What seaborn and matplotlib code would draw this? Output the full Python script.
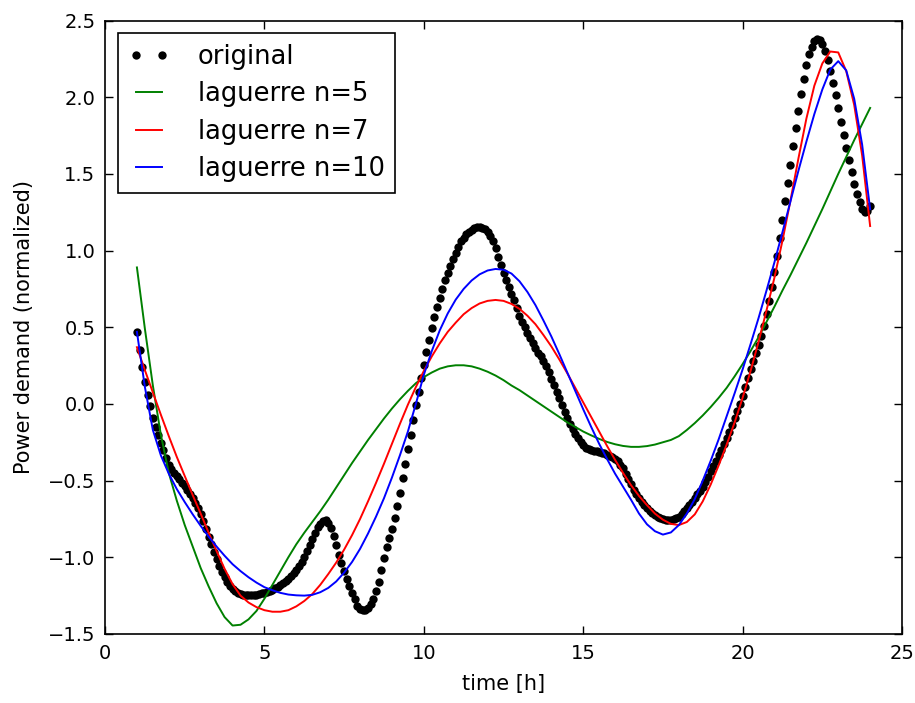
import numpy as np
import pandas as pd
import matplotlib
matplotlib.use('Agg')
import matplotlib.pyplot as plt
import seaborn as sns

# measured power demand, one value every 5 minutes from 1:00 to 24:00 (one row per hour)
minutes = np.arange(60, 24 * 60 + 1, 5)
hours = minutes / 60.0
power = [
    0.47, 0.35, 0.24, 0.145, 0.057, -0.015, -0.095, -0.15, -0.20, -0.255, -0.30, -0.355,
    -0.40, -0.425, -0.45, -0.47, -0.49, -0.515, -0.535, -0.56, -0.585, -0.615, -0.645, -0.68,
    -0.72, -0.765, -0.815, -0.865, -0.915, -0.965, -1.01, -1.055, -1.095, -1.13, -1.16, -1.185,
    -1.205, -1.22, -1.23, -1.238, -1.243, -1.246, -1.247, -1.247, -1.245, -1.243, -1.24, -1.236,
    -1.232, -1.227, -1.22, -1.212, -1.203, -1.193, -1.182, -1.17, -1.157, -1.142, -1.125, -1.105,
    -1.083, -1.058, -1.03, -0.995, -0.958, -0.92, -0.88, -0.84, -0.805, -0.78, -0.765, -0.76,
    -0.775, -0.81, -0.86, -0.92, -0.985, -1.04, -1.09, -1.14, -1.19, -1.235, -1.27, -1.315,
    -1.335, -1.344, -1.342, -1.33, -1.305, -1.27, -1.22, -1.16, -1.085, -1.005, -0.935, -0.875,
    -0.815, -0.745, -0.665, -0.58, -0.48, -0.39, -0.295, -0.20, -0.105, -0.01, 0.08, 0.17,
    0.255, 0.34, 0.42, 0.495, 0.565, 0.63, 0.69, 0.75, 0.805, 0.855, 0.90, 0.945,
    0.985, 1.025, 1.06, 1.085, 1.105, 1.12, 1.135, 1.145, 1.152, 1.155, 1.15, 1.14,
    1.12, 1.095, 1.06, 1.015, 0.96, 0.905, 0.855, 0.81, 0.765, 0.72, 0.675, 0.625,
    0.575, 0.535, 0.50, 0.465, 0.43, 0.395, 0.365, 0.335, 0.31, 0.28, 0.245, 0.21,
    0.165, 0.125, 0.08, 0.04, -0.005, -0.05, -0.09, -0.13, -0.165, -0.195, -0.225, -0.25,
    -0.27, -0.285, -0.295, -0.30, -0.305, -0.31, -0.313, -0.317, -0.322, -0.33, -0.338, -0.348,
    -0.36, -0.375, -0.395, -0.42, -0.455, -0.49, -0.525, -0.56, -0.59, -0.615, -0.64, -0.66,
    -0.68, -0.695, -0.71, -0.722, -0.735, -0.745, -0.752, -0.757, -0.76, -0.758, -0.752, -0.745,
    -0.735, -0.72, -0.70, -0.68, -0.66, -0.64, -0.615, -0.59, -0.565, -0.54, -0.51, -0.475,
    -0.44, -0.405, -0.37, -0.335, -0.30, -0.26, -0.22, -0.18, -0.135, -0.09, -0.045, 0.0,
    0.05, 0.11, 0.17, 0.225, 0.28, 0.33, 0.385, 0.445, 0.51, 0.585, 0.67, 0.76,
    0.86, 0.965, 1.08, 1.20, 1.32, 1.44, 1.56, 1.68, 1.80, 1.91, 2.02, 2.12,
    2.21, 2.28, 2.33, 2.365, 2.38, 2.37, 2.345, 2.30, 2.24, 2.17, 2.095, 2.015,
    1.93, 1.84, 1.755, 1.67, 1.59, 1.51, 1.435, 1.37, 1.315, 1.27, 1.25, 1.26,
    1.29,
]

# laguerre fits, read every quarter hour from 1:00 to 24:00
fit_hours = np.arange(4, 97) / 4.0
lag5 = [
    0.89, 0.49, 0.12, -0.20, -0.45, -0.63, -0.79, -0.93, -1.07, -1.19, -1.30, -1.39,
    -1.445, -1.44, -1.405, -1.35, -1.27, -1.18, -1.09, -1.0, -0.915, -0.84, -0.77, -0.70,
    -0.625, -0.545, -0.465, -0.385, -0.31, -0.235, -0.165, -0.095, -0.03, 0.03, 0.085, 0.135,
    0.175, 0.205, 0.23, 0.245, 0.252, 0.252, 0.245, 0.23, 0.21, 0.185, 0.155, 0.12,
    0.09, 0.055, 0.02, -0.015, -0.05, -0.085, -0.12, -0.15, -0.18, -0.205, -0.228, -0.248,
    -0.263, -0.274, -0.28, -0.28, -0.275, -0.265, -0.25, -0.235, -0.21, -0.17, -0.125, -0.075,
    -0.02, 0.04, 0.105, 0.18, 0.26, 0.345, 0.435, 0.535, 0.635, 0.74, 0.84, 0.945,
    1.05, 1.16, 1.27, 1.385, 1.50, 1.61, 1.72, 1.825, 1.93,
]
lag7 = [
    0.37, 0.22, 0.075, -0.07, -0.21, -0.345, -0.47, -0.595, -0.715, -0.84, -0.96, -1.075,
    -1.175, -1.25, -1.295, -1.325, -1.345, -1.355, -1.355, -1.345, -1.32, -1.285, -1.24, -1.18,
    -1.11, -1.035, -0.95, -0.855, -0.75, -0.635, -0.515, -0.39, -0.26, -0.13, -0.005, 0.11,
    0.215, 0.31, 0.395, 0.47, 0.53, 0.585, 0.625, 0.655, 0.672, 0.678, 0.672, 0.652,
    0.62, 0.575, 0.52, 0.45, 0.375, 0.29, 0.20, 0.105, 0.01, -0.085, -0.18, -0.275,
    -0.365, -0.45, -0.53, -0.60, -0.66, -0.715, -0.755, -0.782, -0.79, -0.77, -0.72, -0.635,
    -0.525, -0.40, -0.265, -0.12, 0.04, 0.215, 0.405, 0.61, 0.825, 1.065, 1.325, 1.60,
    1.86, 2.075, 2.22, 2.298, 2.292, 2.17, 1.95, 1.62, 1.16,
]
lag10 = [
    0.47, 0.11, -0.17, -0.335, -0.455, -0.555, -0.64, -0.72, -0.795, -0.865, -0.93, -0.99,
    -1.045, -1.09, -1.13, -1.165, -1.195, -1.215, -1.232, -1.243, -1.248, -1.25, -1.245, -1.228,
    -1.20, -1.158, -1.10, -1.03, -0.945, -0.845, -0.735, -0.615, -0.48, -0.335, -0.18, 0.0,
    0.19, 0.345, 0.48, 0.59, 0.68, 0.75, 0.805, 0.845, 0.87, 0.88, 0.875, 0.85,
    0.80, 0.73, 0.645, 0.545, 0.44, 0.325, 0.205, 0.085, -0.035, -0.15, -0.26, -0.36,
    -0.455, -0.54, -0.625, -0.715, -0.785, -0.83, -0.852, -0.838, -0.79, -0.715, -0.62, -0.50,
    -0.37, -0.23, -0.08, 0.07, 0.225, 0.39, 0.56, 0.74, 0.925, 1.12, 1.32, 1.52,
    1.71, 1.89, 2.05, 2.18, 2.235, 2.175, 1.99, 1.69, 1.27,
]

fits = pd.DataFrame({'t': fit_hours, 'n5': lag5, 'n7': lag7, 'n10': lag10})

fig = plt.figure(figsize=(9.15, 7.03), dpi=100)
ax = fig.add_axes([0.1148, 0.0982, 0.871, 0.8726])

sns.lineplot(x=hours, y=power, ax=ax, color='k', marker='o', markersize=6,
             markeredgewidth=0, linestyle='', label='original',
             estimator=None, sort=False)
sns.lineplot(data=fits, x='t', y='n5', ax=ax, color='g', lw=1.4,
             label='laguerre n=5', estimator=None, sort=False)
sns.lineplot(data=fits, x='t', y='n7', ax=ax, color='r', lw=1.4,
             label='laguerre n=7', estimator=None, sort=False)
sns.lineplot(data=fits, x='t', y='n10', ax=ax, color='b', lw=1.4,
             label='laguerre n=10', estimator=None, sort=False)

ax.set_xlim(0, 25)
ax.set_ylim(-1.5, 2.5)
ax.set_xticks(np.arange(0, 26, 5))
ax.set_yticks(np.arange(-1.5, 2.51, 0.5))
ax.yaxis.set_major_formatter(
    matplotlib.ticker.FuncFormatter(lambda v, p: ('%.1f' % v).replace('-', '\u2212')))
ax.tick_params(direction='in', length=6, width=1, top=True, right=True,
               labelsize=14, pad=7)
for sp in ax.spines.values():
    sp.set_linewidth(1.2)
    sp.set_color('k')
ax.grid(False)

ax.set_xlabel('time [h]', fontsize=15, labelpad=8)
ax.set_ylabel('Power demand (normalized)', fontsize=15, labelpad=10)

leg = ax.legend(loc='upper left', numpoints=2, fontsize=18.5, fancybox=False,
                framealpha=1, edgecolor='k', handlelength=1.6,
                handletextpad=1.1, labelspacing=0.45, borderpad=0.4,
                borderaxespad=0.5)
leg.get_frame().set_linewidth(1.2)

plt.savefig('out.png', dpi=100)
